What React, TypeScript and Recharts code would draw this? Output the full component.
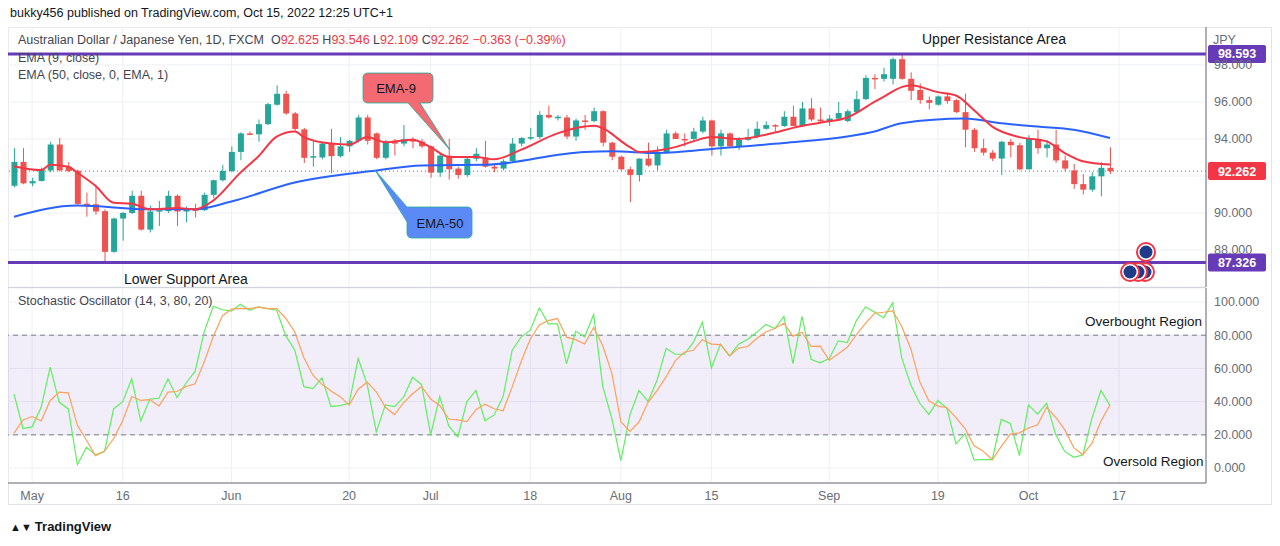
import React from "react"
import {
  ComposedChart, Bar, Line, XAxis, YAxis, CartesianGrid, ReferenceLine, ReferenceArea,
} from "recharts"

const opens = [91.47,92.76,91.6,91.73,92.3,93.7,92.5,92.28,90.5,90.47,90.1,87.9,89.7,90.0,90.93,89.1,90.1,90.1,90.93,90.08,90.2,90.15,90.98,91.77,92.27,93.3,94.3,94.25,94.8,95.85,96.44,95.38,94.52,93.0,93.0,93.75,93.07,93.6,93.9,95.16,94.3,92.98,93.9,93.75,94.0,93.86,93.6,92.18,93.1,92.4,92.05,92.93,93.0,92.5,92.4,92.8,93.75,94.05,94.1,95.3,95.15,95.16,94.13,95.0,94.97,95.5,93.8,93.04,92.36,92.05,92.94,92.57,93.24,94.3,94.0,94.0,94.4,95.0,93.6,94.3,93.6,93.95,94.1,94.55,94.75,94.7,95.2,94.7,95.65,95.05,94.95,95.1,94.97,95.45,96.15,97.3,97.25,97.25,98.31,97.25,96.65,96.1,95.85,96.3,96.1,95.45,94.5,93.5,93.26,92.94,93.85,93.66,92.36,94.0,93.5,93.7,92.84,92.3,91.56,91.26,91.98,92.44]
const highs = [93.5,93.5,91.9,92.45,93.85,94.05,92.75,92.35,91.1,91.4,90.2,89.75,90.05,91.2,91.2,90.4,90.65,91.2,91.0,90.35,90.5,91.1,91.8,92.6,93.6,94.35,94.4,95.05,95.95,96.9,96.6,95.45,94.6,93.9,93.8,94.55,94.1,93.95,95.3,95.3,94.35,93.95,94.0,94.75,94.1,94.0,93.65,93.2,94.0,92.5,93.0,93.5,93.9,92.6,92.9,94.05,94.1,94.6,95.5,95.8,95.3,95.3,95.1,95.3,95.7,95.55,93.85,93.1,92.5,92.95,93.8,93.6,94.5,94.4,94.3,94.6,95.2,95.05,94.5,94.35,94.1,94.55,94.95,94.95,94.8,95.5,95.8,96.0,96.2,95.7,95.3,96.0,95.6,96.6,97.45,97.5,97.85,98.4,98.58,97.6,97.0,96.3,96.35,96.5,96.15,96.45,94.6,94.0,93.4,93.9,94.0,93.8,94.2,94.5,93.95,94.5,93.1,92.65,92.1,92.2,92.75,93.55]
const lows = [91.38,91.55,91.45,91.7,92.2,92.25,92.2,90.45,89.8,89.9,87.38,87.85,88.5,89.95,89.05,88.95,89.3,90.0,89.3,89.5,89.75,90.1,90.8,91.7,92.2,92.85,94.2,93.85,94.75,95.8,95.3,94.45,92.7,92.5,92.9,92.15,93.0,93.3,93.8,93.7,92.9,92.9,93.1,93.6,93.5,93.5,91.9,91.95,91.8,91.85,91.95,92.8,92.45,92.2,92.3,92.7,93.6,93.95,94.0,95.1,95.0,94.0,93.9,94.5,94.9,93.6,92.85,92.3,90.58,91.7,92.5,92.3,93.2,94.0,93.6,93.9,94.3,93.1,93.1,93.6,93.4,93.9,94.05,94.5,94.4,94.65,94.7,94.65,94.95,94.9,94.7,95.0,94.9,95.4,96.1,96.7,97.1,96.95,97.2,96.1,95.9,95.6,95.8,95.9,95.4,93.55,93.3,93.1,92.8,92.05,93.0,92.3,92.35,93.2,93.0,92.7,92.25,91.3,91.0,91.15,90.9,92.11]
const closes = [92.76,91.6,91.72,92.36,93.7,92.3,92.27,90.49,90.47,90.08,87.9,89.7,90.0,90.93,89.1,90.08,90.15,90.93,90.08,90.2,90.15,90.98,91.77,92.27,93.3,94.3,94.22,94.8,95.88,96.44,95.38,94.54,92.98,93.07,93.75,93.07,93.6,93.9,95.16,93.9,92.98,93.86,93.75,93.98,93.86,93.6,92.18,93.1,92.36,92.05,92.93,93.2,92.5,92.4,92.8,93.75,94.05,94.1,95.3,95.16,95.2,94.13,95.0,94.97,95.5,93.8,93.04,92.36,92.05,92.94,92.57,93.24,94.3,94.0,93.97,94.4,95.0,93.6,94.3,93.6,93.95,94.1,94.55,94.75,94.7,95.2,94.7,95.65,95.05,94.95,95.1,95.4,95.5,96.15,97.3,97.25,97.5,98.31,97.25,96.6,96.1,95.95,96.3,96.05,95.45,94.5,93.5,93.26,92.94,93.85,93.66,92.36,94.0,93.5,93.7,92.84,92.4,91.56,91.26,91.98,92.44,92.26]

// [bar index, value]
const ema9Points = [[0,92.53],[3,92.32],[4,92.6],[6,92.5],[7,92.18],[9,91.47],[11,90.55],[13,90.5],[15,90.2],[18,90.27],[20,90.2],[22,90.67],[25,92.18],[27,93.07],[29,94.13],[31,94.4],[32,94.1],[35,93.75],[37,93.7],[39,94.1],[41,93.82],[44,93.96],[46,93.56],[48,93.03],[51,93.03],[53,92.9],[56,93.42],[60,94.3],[63,94.67],[64,94.72],[68,93.56],[69,93.3],[73,93.56],[75,93.87],[77,94.1],[80,94.0],[84,94.35],[86,94.6],[89,94.88],[92,95.16],[95,96.0],[96,96.27],[98,96.8],[99,96.9],[102,96.53],[104,96.35],[106,95.55],[108,94.67],[111,94.1],[114,93.87],[116,93.24],[118,92.8],[121,92.62]]
const ema50Points = [[0,89.8],[7,90.4],[15,90.2],[20,90.2],[24,90.62],[31,91.65],[40,92.3],[45,92.57],[52,92.6],[63,93.3],[66,93.33],[71,93.24],[78,93.5],[85,93.78],[92,94.13],[95,94.4],[98,94.85],[105,95.1],[109,94.85],[113,94.67],[117,94.5],[121,94.05]]

const stochK = [44.5,23.8,24.8,36.6,60.8,39.6,35.6,2,12.6,7.9,10,35.6,40,53.7,28.3,41.5,42,53.7,42.5,51.2,58.3,82,97.4,95.3,94.5,98.6,95,97,96,95,79.7,71,49,47.8,54.3,37,37.6,39,65.9,50.2,21.7,38,37,42.5,54.7,50.2,20,43,25.4,18.7,40,46.7,28.5,32,43,71,79,83,96.5,86.8,86.8,62.8,82.3,79,92.5,49.2,29.9,4.5,32,46.7,40,53,72,68.5,68.5,75.6,87.8,60.4,74.6,67.5,74.6,77.6,81.7,86.4,84,91.3,62.8,91.3,65.4,63.4,66,76.6,75.6,88.8,97,93.9,90.4,99.4,66.5,50.2,39,32.3,40.7,36,14.6,20.7,4.9,5.1,5.1,29.3,26.8,7.5,38,32.5,39,20.3,10,6.5,7.9,29.9,46.7,37.6]
const stochD = [21,29,31,28.4,40.7,45.7,45.3,25.7,16.7,7.5,10.2,17.8,28.5,43.1,40.7,41.2,37.3,45.7,46.1,49.1,50.7,63.8,79.2,91.6,95.7,96.1,96,96.9,96,96,90.2,81.9,66.6,55.9,50.4,46.4,43,37.9,47.5,51.7,45.9,36.6,32.2,39.2,44.7,49.1,41.6,37.7,29.5,29,28,35.1,38.4,35.7,34.5,48.7,64.3,77.7,86.2,88.8,90,78.8,77.3,74.7,84.6,73.6,57.2,27.9,22.1,27.7,39.6,46.6,55,64.5,69.7,70.9,77.3,74.6,74.3,67.5,72.2,73.2,78,81.9,84,87.2,79.4,81.8,73.2,73.4,64.9,68.7,72.7,80.3,87.1,93.2,93.8,94.6,85.4,72,51.9,40.5,37.3,36.3,30.4,23.8,13.4,10.2,5,13.1,20.4,21.2,24.1,26,36.5,30.6,23.1,12.3,8.1,14.8,28.2,38.1]

const dateTicks = [2, 12, 24, 37, 46, 57, 67, 77, 90, 102, 112, 122]
const dateLabels = ["May", "16", "Jun", "20", "Jul", "18", "Aug", "15", "Sep", "19", "Oct", "17"]
const priceTicks = [88, 90, 92, 94, 96, 98]
const stochTicks = [0, 20, 40, 60, 80, 100]
const resistance = 98.593
const support = 87.326
const lastClose = 92.262

const ema9Map = new Map(ema9Points.map(([i, v]) => [i, v]))
const ema50Map = new Map(ema50Points.map(([i, v]) => [i, v]))
const rows = opens.map((o, i) => ({
  i, o, h: highs[i], l: lows[i], c: closes[i], range: [lows[i], highs[i]],
  ema9: ema9Map.get(i), ema50: ema50Map.get(i), k: stochK[i], d: stochD[i],
}))

const FONT = "'Liberation Sans', 'DejaVu Sans', sans-serif"
const GRID = "#edf0f4"
const X_DOMAIN = [-0.66, 131.6]

const Candle = (props: any) => {
  const { x, y, width, height, payload } = props
  const top = Math.min(y, y + height)
  const hh = Math.abs(height)
  const k = hh / (payload.h - payload.l || 1)
  const py = (p: number) => top + (payload.h - p) * k
  const up = payload.c >= payload.o
  const col = up ? "#26a69a" : "#ef5350"
  const cx = x + width / 2
  const bt = py(Math.max(payload.o, payload.c))
  const bb = py(Math.min(payload.o, payload.c))
  return (
    <g>
      <line x1={cx} x2={cx} y1={top} y2={top + hh} stroke={col} strokeWidth={1} />
      <rect x={x} y={bt} width={width} height={Math.max(bb - bt, 1.5)} fill={col} />
    </g>
  )
}

const priceBox = (value: number, bg: string) => (props: any) => {
  const vb = props.viewBox
  return (
    <g>
      <rect x={vb.x + vb.width + 2} y={vb.y - 9} width={58} height={18} rx={2} fill={bg} />
      <text x={vb.x + vb.width + 31} y={vb.y + 4.5} textAnchor="middle" fill="#fff" fontSize={12.5} fontWeight={700} fontFamily={FONT}>
        {value.toFixed(3)}
      </text>
    </g>
  )
}

const Flag = ({ x, y }: { x: number; y: number }) => (
  <g>
    <circle cx={x} cy={y} r={9} fill="#fff" stroke="#f23645" strokeWidth={2} />
    <circle cx={x} cy={y} r={6.5} fill="#1f3c88" />
  </g>
)

export default function App() {
  return (
    <div style={{ position: "absolute", left: 0, top: 0, width: 1280, height: 546, background: "#fff", fontFamily: FONT, color: "#131722" }}>
      <div style={{ position: "absolute", left: 10, top: 6, fontSize: 12.5 }}>bukky456 published on TradingView.com, Oct 15, 2022 12:25 UTC+1</div>
      <div style={{ position: "absolute", left: 8, top: 27, width: 1264, height: 478, border: "1px solid #e0e3eb", boxSizing: "border-box" }} />

      <div style={{ position: "absolute", left: 8, top: 27 }}>
        <ComposedChart width={1264} height={260} data={rows} margin={{ top: 0, right: 0, bottom: 0, left: 0 }}>
          <CartesianGrid stroke={GRID} />
          <XAxis dataKey="i" type="number" domain={X_DOMAIN} ticks={dateTicks} hide allowDataOverflow />
          <YAxis orientation="right" width={66} domain={[86, 100.05]} ticks={priceTicks} allowDataOverflow
            tickFormatter={(v) => (v === 92 ? "" : v.toFixed(3))} tick={{ fill: "#6a6d78", fontSize: 12.5, fontFamily: FONT }}
            axisLine={{ stroke: "#6a6d78" }} tickLine={false} />
          <ReferenceLine y={lastClose} stroke="#f23645" strokeDasharray="1 3" label={priceBox(lastClose, "#f23645")} />
          <ReferenceLine y={resistance} stroke="#673ab7" strokeWidth={3} label={priceBox(resistance, "#673ab7")} />
          <ReferenceLine y={support} stroke="#673ab7" strokeWidth={3} label={priceBox(support, "#673ab7")} />
          <Bar dataKey="range" shape={<Candle />} barSize={6} isAnimationActive={false} />
          <Line dataKey="ema50" stroke="#2962ff" strokeWidth={2} dot={false} connectNulls type="monotone" isAnimationActive={false} />
          <Line dataKey="ema9" stroke="#f23645" strokeWidth={2} dot={false} connectNulls type="monotone" isAnimationActive={false} />
        </ComposedChart>
      </div>

      <div style={{ position: "absolute", left: 8, top: 287, width: 1198, borderTop: "1px solid #d1d4dc" }} />

      <div style={{ position: "absolute", left: 8, top: 288 }}>
        <ComposedChart width={1264} height={217} data={rows} margin={{ top: 0, right: 0, bottom: 0, left: 0 }}>
          <CartesianGrid stroke={GRID} />
          <XAxis dataKey="i" type="number" domain={X_DOMAIN} ticks={dateTicks} allowDataOverflow height={22}
            tickFormatter={(v) => dateLabels[dateTicks.indexOf(v)] ?? ""}
            tick={{ fill: "#6a6d78", fontSize: 12.5, fontFamily: FONT }} axisLine={{ stroke: "#6a6d78" }} tickLine={false} />
          <YAxis orientation="right" width={66} domain={[-9, 108.4]} ticks={stochTicks} allowDataOverflow
            tickFormatter={(v) => v.toFixed(3)} tick={{ fill: "#6a6d78", fontSize: 12.5, fontFamily: FONT }}
            axisLine={{ stroke: "#6a6d78" }} tickLine={false} />
          <ReferenceArea y1={20} y2={80} fill="#7e57c2" fillOpacity={0.1} stroke="none" />
          <ReferenceLine y={80} stroke="#787b86" strokeDasharray="5 4" />
          <ReferenceLine y={20} stroke="#787b86" strokeDasharray="5 4" />
          <Line dataKey="k" stroke="#5ef05e" strokeWidth={1.2} dot={false} isAnimationActive={false} />
          <Line dataKey="d" stroke="#ffa05a" strokeWidth={1.2} dot={false} isAnimationActive={false} />
        </ComposedChart>
      </div>

      <div style={{ position: "absolute", left: 18, top: 33, fontSize: 12.5, color: "#434651", whiteSpace: "pre" }}>
        Australian Dollar / Japanese Yen, 1D, FXCM{"  "}O<span style={{ color: "#f23645" }}>92.625</span> H<span style={{ color: "#f23645" }}>93.546</span> L<span style={{ color: "#f23645" }}>92.109</span> C<span style={{ color: "#f23645" }}>92.262</span> <span style={{ color: "#f23645" }}>−0.363 (−0.39%)</span>
      </div>
      <div style={{ position: "absolute", left: 18, top: 51, fontSize: 12.5, color: "#434651" }}>EMA (9, close)</div>
      <div style={{ position: "absolute", left: 18, top: 68, fontSize: 12.5, color: "#434651" }}>EMA (50, close, 0, EMA, 1)</div>
      <div style={{ position: "absolute", left: 18, top: 294, fontSize: 12.5, color: "#434651" }}>Stochastic Oscillator (14, 3, 80, 20)</div>
      <div style={{ position: "absolute", left: 922, top: 31, fontSize: 14 }}>Upper Resistance Area</div>
      <div style={{ position: "absolute", left: 124, top: 271, fontSize: 14 }}>Lower Support Area</div>
      <div style={{ position: "absolute", left: 1085, top: 314, fontSize: 13.5 }}>Overbought Region</div>
      <div style={{ position: "absolute", left: 1103, top: 454, fontSize: 13.5 }}>Oversold Region</div>
      <div style={{ position: "absolute", left: 1213, top: 33, fontSize: 12.5, color: "#6a6d78" }}>JPY</div>
      <div style={{ position: "absolute", left: 10, top: 519, fontSize: 13, fontWeight: 700, color: "#131722" }}>
        <span style={{ fontSize: 11 }}>▲▼ </span>TradingView
      </div>

      <svg width={1280} height={546} style={{ position: "absolute", left: 0, top: 0, pointerEvents: "none" }}>
        <path d="M368 73 H428 Q433 73 433 78 V98 Q433 103 428 103 H420 L450 150 L408 103 H368 Q363 103 363 98 V78 Q363 73 368 73 Z"
          fill="#f46a72" stroke="#22ab94" strokeWidth={0.8} />
        <text x={396} y={93} textAnchor="middle" fontSize={13} fill="#131722" fontFamily={FONT}>EMA-9</text>
        <path d="M412 207 H467 Q472 207 472 212 V233 Q472 238 467 238 H412 Q407 238 407 233 V222 L375 170 L407 207 Z"
          fill="#5b8af7" stroke="#22ab94" strokeWidth={0.8} />
        <text x={440} y={228} textAnchor="middle" fontSize={13} fill="#131722" fontFamily={FONT}>EMA-50</text>
        <Flag x={1146} y={252} />
        <Flag x={1145} y={272} />
        <Flag x={1138} y={272} />
        <Flag x={1130} y={272} />
      </svg>
    </div>
  )
}
